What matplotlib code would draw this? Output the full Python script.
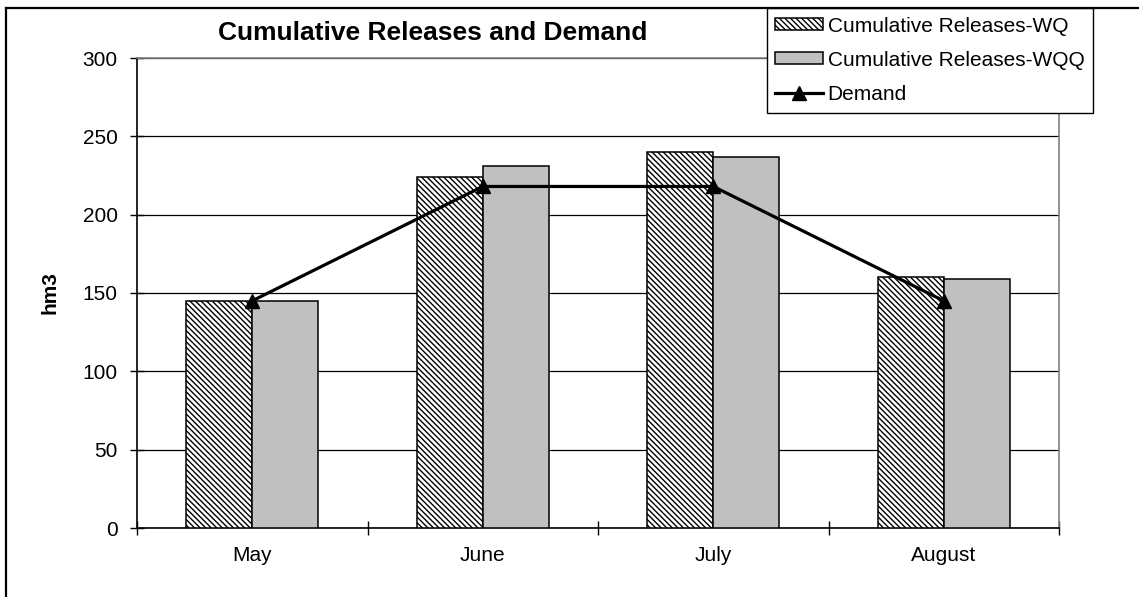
import matplotlib
matplotlib.use("Agg")
import matplotlib.pyplot as plt
import numpy as np
from matplotlib.lines import Line2D

plt.rcParams['font.family'] = ['Liberation Sans', 'DejaVu Sans']
plt.rcParams['hatch.linewidth'] = 1.0

months = ["May", "June", "July", "August"]
releases_wq = [145, 224, 240, 160]
releases_wqq = [145, 231, 237, 159]
demand = [145, 218, 218, 145]
yticks = [0, 50, 100, 150, 200, 250, 300]

W, H = 1139, 597
fig = plt.figure(figsize=(W / 100, H / 100), dpi=100)
ax = fig.add_axes([137 / W, 1 - 528 / H, (1059 - 137) / W, (528 - 58) / H])

x = np.arange(len(months))
bw = 0.2857
b1 = ax.bar(x - bw / 2, releases_wq, bw, color='white', edgecolor='black',
            hatch='\\' * 6, linewidth=1.1, label='Cumulative Releases-WQ', zorder=3)
b2 = ax.bar(x + bw / 2, releases_wqq, bw, color='#c0c0c0', edgecolor='black',
            linewidth=1.1, label='Cumulative Releases-WQQ', zorder=3)
l1, = ax.plot(x, demand, color='black', lw=2.3, marker='^', ms=10, label='Demand', zorder=4)

ax.set_xlim(-0.5, len(months) - 0.5)
ax.set_ylim(0, 300)
ax.set_yticks(yticks)
ax.yaxis.grid(True, color='black', lw=0.9, zorder=0)
ax.set_axisbelow(True)

ax.set_xticks(x)
ax.set_xticklabels(months)
ax.set_xticks(np.arange(-0.5, len(months)), minor=True)
ax.tick_params(axis='x', which='major', length=0, pad=13, labelsize=15)
ax.tick_params(axis='x', which='minor', direction='inout', length=10, width=1.0)
ax.tick_params(axis='y', direction='inout', length=10, width=1.0, pad=9, labelsize=15)

for s in ['left', 'bottom']:
    ax.spines[s].set_color('black')
    ax.spines[s].set_linewidth(1.2)
for s in ['top', 'right']:
    ax.spines[s].set_color('#808080')
    ax.spines[s].set_linewidth(1.2)

fig.text(50 / W, 1 - 293 / H, 'hm3', rotation=90, fontsize=15, fontweight='bold',
         ha='center', va='center')
fig.text(433 / W, 1 - 33 / H, 'Cumulative Releases and Demand', fontsize=19,
         fontweight='bold', ha='center', va='center')

leg = ax.legend(handles=[b1, b2, l1], loc='upper right', bbox_to_anchor=(1093 / W, 1 - 8 / H),
                bbox_transform=fig.transFigure, fontsize=15, frameon=True,
                fancybox=False, edgecolor='black', framealpha=1,
                handlelength=2.3, handleheight=0.5, handletextpad=0.2,
                labelspacing=0.72, borderpad=0.42, borderaxespad=0)
leg.get_frame().set_linewidth(1.0)

fig.add_artist(Line2D([6 / W, 6 / W], [0, 1 - 8 / H], color='black', lw=1.6,
                      transform=fig.transFigure))
fig.add_artist(Line2D([6 / W, 1], [1 - 8 / H, 1 - 8 / H], color='black', lw=1.6,
                      transform=fig.transFigure))

fig.savefig('out.png', dpi=100)
